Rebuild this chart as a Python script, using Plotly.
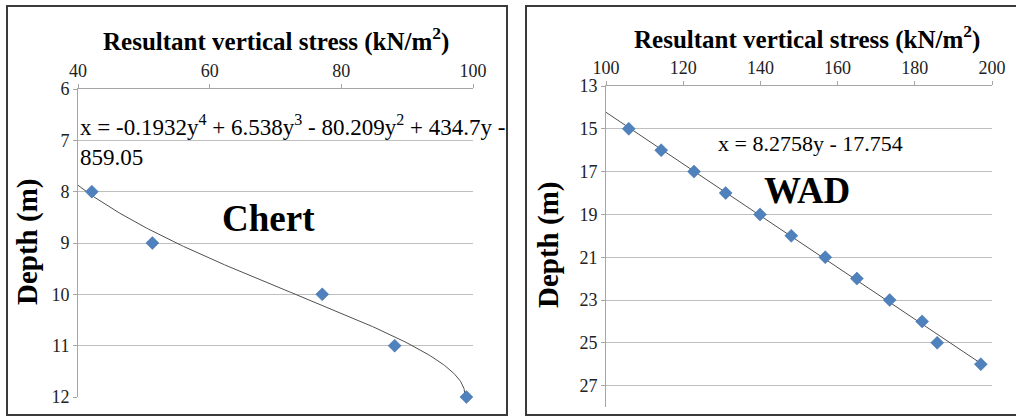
import numpy as np
import plotly.graph_objects as go

W, H = 1016, 417

# ---- data ----
chert_depth = [8, 9, 10, 11, 12]
chert_stress = [42.1, 51.3, 77.1, 88.1, 99.0]
chert_coef = [-0.1932, 6.538, -80.209, 434.7, -859.05]   # trendline printed in chart (y^4..y^0)
chert_eq = "x = -0.1932y<sup>4</sup> + 6.538y<sup>3</sup> - 80.209y<sup>2</sup> + 434.7y -<br>859.05"

wad_depth = [15, 16, 17, 18, 19, 20, 21, 22, 23, 24, 25, 26]
wad_stress = [105.9, 114.3, 122.8, 131.0, 139.9, 148.0, 156.8, 165.0, 173.5, 181.9, 185.8, 197.1]
wad_coef = [8.2758, -17.754]
wad_eq = "x = 8.2758y - 17.754"

x_title = "Resultant vertical stress (kN/m<sup>2</sup>)"
y_title = "Depth (m)"

def px(x):
    return x / W

def py(y):
    return 1 - y / H

FONT = "Liberation Serif"
BLUE = "#4F81BD"
GRID = "#BFBFBF"
AXIS = "#A6A6A6"

fig = go.Figure()

yc = np.linspace(7.8, 12, 200)
fig.add_trace(go.Scatter(x=np.polyval(chert_coef, yc), y=yc, mode="lines",
                         line=dict(color="#505050", width=1), xaxis="x", yaxis="y",
                         showlegend=False, hoverinfo="skip"))
fig.add_trace(go.Scatter(x=chert_stress, y=chert_depth, mode="markers",
                         marker=dict(symbol="diamond", size=10, color=BLUE,
                                     line=dict(color="#3f6ea8", width=0.5)),
                         xaxis="x", yaxis="y", showlegend=False, cliponaxis=False))

yw = np.linspace(14.2, 26, 50)
fig.add_trace(go.Scatter(x=np.polyval(wad_coef, yw), y=yw, mode="lines",
                         line=dict(color="#505050", width=1), xaxis="x2", yaxis="y2",
                         showlegend=False, hoverinfo="skip"))
fig.add_trace(go.Scatter(x=wad_stress, y=wad_depth, mode="markers",
                         marker=dict(symbol="diamond", size=10, color=BLUE,
                                     line=dict(color="#3f6ea8", width=0.5)),
                         xaxis="x2", yaxis="y2", showlegend=False, cliponaxis=False))

tickfont = dict(family=FONT, size=18, color="#222")

common_x = dict(side="top", showgrid=False, showline=True, linecolor=AXIS, linewidth=1,
                ticks="outside", ticklen=4, tickcolor=AXIS, tickfont=tickfont,
                zeroline=False, fixedrange=True, automargin=False)
common_y = dict(showgrid=True, gridcolor=GRID, gridwidth=1, showline=True, linecolor=AXIS,
                linewidth=1, ticks="outside", ticklen=4, tickcolor=AXIS, tickfont=tickfont,
                zeroline=False, autorange=False, automargin=False, fixedrange=True)

fig.update_layout(
    template="none",
    width=W, height=H, margin=dict(l=0, r=0, t=0, b=0, autoexpand=False),
    paper_bgcolor="white", plot_bgcolor="white",
    xaxis=dict(common_x, domain=[px(78), px(473)], range=[40, 100], dtick=20,
               anchor="y"),
    yaxis=dict(common_y, domain=[py(397), py(89)], range=[12, 6], dtick=1,
               anchor="x"),
    xaxis2=dict(common_x, domain=[px(606), px(992)], range=[100, 200], dtick=20,
                anchor="y2"),
    yaxis2=dict(common_y, domain=[py(407), py(86)], range=[28, 13], tick0=13, dtick=2,
                anchor="x2"),
)

ann = []
for cx, cy in [(276, 40), (807, 37)]:
    ann.append(dict(x=px(cx), y=py(cy), text="<b>" + x_title + "</b>", showarrow=False,
                    xref="paper", yref="paper", xanchor="center", yanchor="middle",
                    font=dict(family=FONT, size=25, color="black")))
for cx, cy in [(28, 242), (548, 245)]:
    ann.append(dict(x=px(cx), y=py(cy), text="<b>" + y_title + "</b>", showarrow=False,
                    xref="paper", yref="paper", xanchor="center", yanchor="middle",
                    textangle=-90, font=dict(family=FONT, size=29, color="black")))
ann.append(dict(x=px(268), y=py(218), text="<b>Chert</b>", showarrow=False,
                xref="paper", yref="paper", xanchor="center", yanchor="middle",
                font=dict(family=FONT, size=37, color="black")))
ann.append(dict(x=px(807), y=py(190), text="<b>WAD</b>", showarrow=False,
                xref="paper", yref="paper", xanchor="center", yanchor="middle",
                font=dict(family=FONT, size=37, color="black")))
ann.append(dict(x=px(78), y=py(109), text=chert_eq, showarrow=False, align="left",
                xref="paper", yref="paper", xanchor="left", yanchor="top",
                font=dict(family=FONT, size=23, color="black")))
ann.append(dict(x=px(810), y=py(143), text=wad_eq, showarrow=False,
                xref="paper", yref="paper", xanchor="center", yanchor="middle",
                font=dict(family=FONT, size=22, color="black")))
fig.update_layout(annotations=ann)

shapes = []
for x0, x1 in [(7, 507), (526, 1030)]:
    shapes.append(dict(type="rect", xref="paper", yref="paper",
                       x0=px(x0), x1=px(x1), y0=py(415), y1=py(6),
                       line=dict(color="#3a3a3a", width=2), fillcolor="rgba(0,0,0,0)",
                       layer="above"))
fig.update_layout(shapes=shapes)

fig.write_html("out.html", config={"displayModeBar": False},
               post_script="document.body.style.margin='0';document.body.style.overflow='hidden';")
